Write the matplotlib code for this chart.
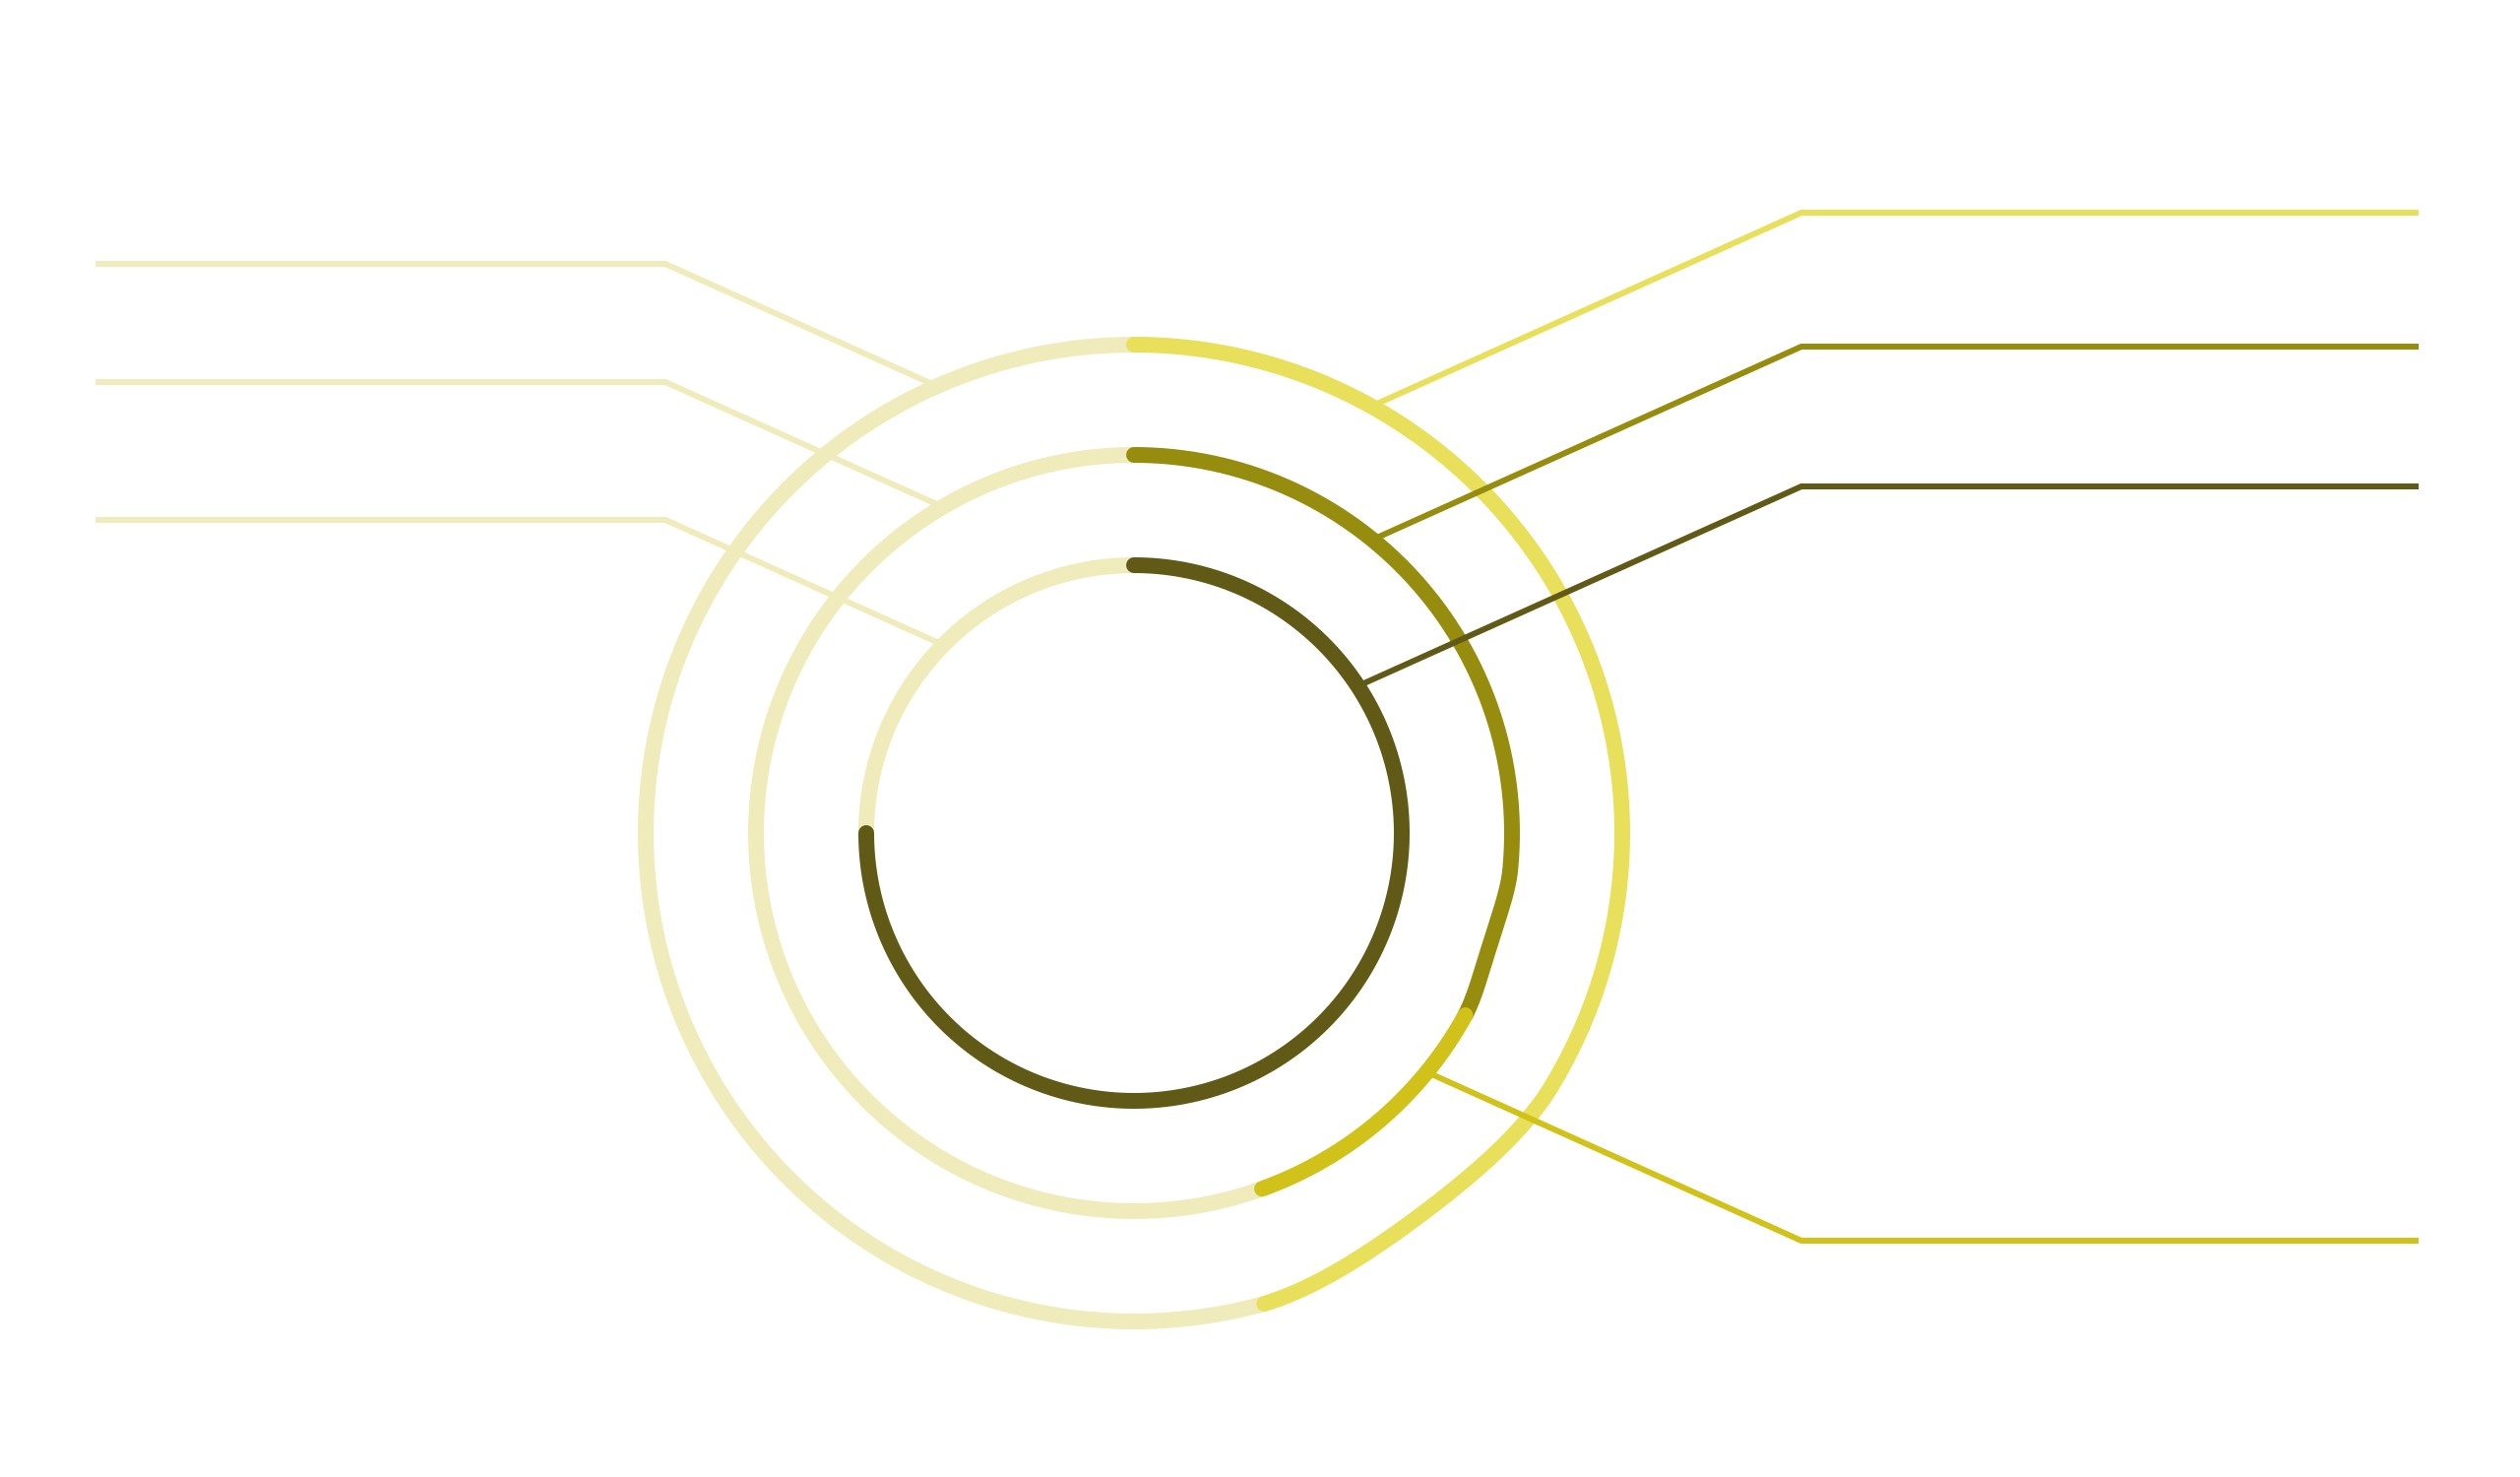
import numpy as np
import matplotlib

matplotlib.use('Agg')
import matplotlib.pyplot as plt

# ring values in percent of a full turn, clockwise from 12 o'clock
inner_values = [75.0]
middle_values = [33.0, 11.5]
outer_values = [45.7]

ring_values = [inner_values, middle_values, outer_values]
ring_colors = [['#615A16'], ['#968C0E', '#D0C218'], ['#E8DF5A']]
track_color = '#F0EBBB'

# label lines (no text), y position of the horizontal part and the ring it points to
right_label_y = [216, 352, 494, 1260]
right_label_ring = [2, 1, 0, 1]
right_label_color = ['#E8DF5A', '#968C0E', '#615A16', '#D0C218']
left_label_y = [268, 388, 528]
left_label_ring = [2, 1, 0]

# layout (pixels)
W, H = 2560, 1500
CX, CY = 1152, 846
RADII = [272, 384, 496]
RING_PX = 16
LINE_PX = 6
SLOPE = 0.45
PT = 72 / 100  # px -> pt at dpi 100

# the renderer pulls the tail of some arcs slightly inwards: (start angle, depth px)
DENT = {(2, 0): (122, 11), (1, 0): (96, 5)}


def arc_xy(r, a0, a1, dent=None):
    th = np.linspace(a0, a1, 400)
    rr = np.full_like(th, float(r))
    if dent is not None and dent[0] < a1:
        a, depth = dent
        m = th > a
        u = (th[m] - a) / (a1 - a)
        rr[m] -= depth * np.sin(np.pi * u) ** 1.5
    t = np.radians(th)
    return CX + rr * np.sin(t), CY - rr * np.cos(t)


def leader(ax, y_lab, ring, side, color):
    ex = 1830 if side == 'right' else 676
    end_x = 2457 if side == 'right' else 97
    dx = -1.0 if side == 'right' else 1.0
    dy = SLOPE * np.sign(CY - y_lab)
    d = np.array([dx, dy]) / np.hypot(dx, dy)
    e = np.array([ex, y_lab], dtype=float)
    rel = e - np.array([CX, CY])
    R = RADII[ring] + 5
    b = d @ rel
    c = rel @ rel - R ** 2
    t = -b - np.sqrt(b * b - c)
    p = e + t * d
    ax.plot([end_x, ex, p[0]], [y_lab, y_lab, p[1]], color=color,
            lw=LINE_PX * PT, solid_capstyle='butt', solid_joinstyle='miter', zorder=5)


fig = plt.figure(figsize=(W / 100, H / 100), dpi=100)
ax = fig.add_axes([0, 0, 1, 1])
ax.set_xlim(0, W)
ax.set_ylim(H, 0)
ax.axis('off')

for i, (vals, cols) in enumerate(zip(ring_values, ring_colors)):
    r = RADII[i]
    total = sum(vals) * 3.6
    # remainder of the ring
    x, y = arc_xy(r, total, 360)
    ax.plot(x, y, color=track_color, lw=RING_PX * PT, solid_capstyle='butt', zorder=1)
    start = 0.0
    for j, (v, col) in enumerate(zip(vals, cols)):
        end = start + v * 3.6
        x, y = arc_xy(r, start, end, DENT.get((i, j)))
        ax.plot(x, y, color=col, lw=RING_PX * PT, solid_capstyle='round',
                solid_joinstyle='round', zorder=2 + j)
        start = end

for y_lab, ring, col in zip(right_label_y, right_label_ring, right_label_color):
    leader(ax, y_lab, ring, 'right', col)
for y_lab, ring in zip(left_label_y, left_label_ring):
    leader(ax, y_lab, ring, 'left', track_color)

fig.savefig('out.png', dpi=100, facecolor='white')
